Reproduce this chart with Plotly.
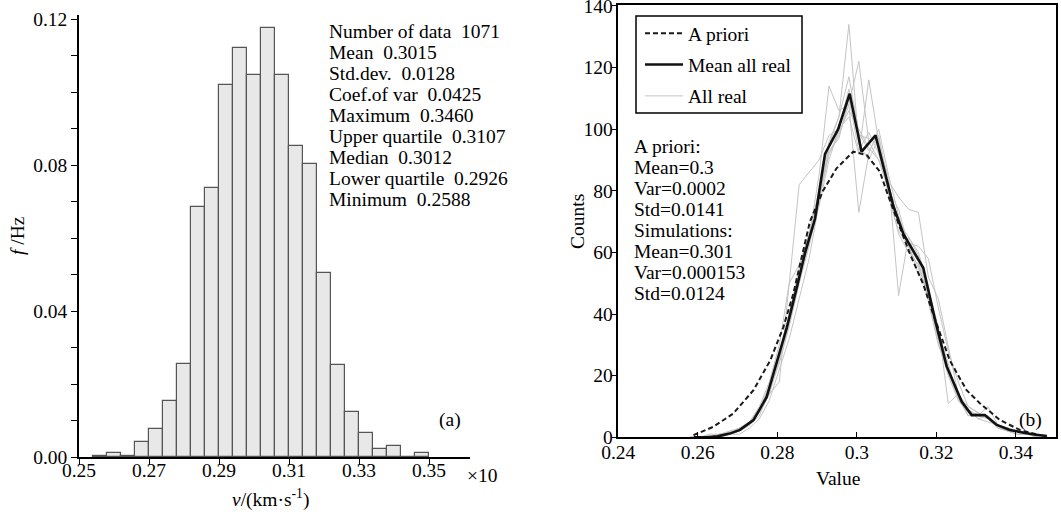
import plotly.graph_objects as go

W, H = 1061, 512
FONT = "Liberation Serif"
FS = 19.5

# ---- panel (a): relative frequency of velocity, bins of width 0.004 ----
bin_centers = [0.256, 0.260, 0.264, 0.268, 0.272, 0.276, 0.280, 0.284, 0.288, 0.292,
               0.296, 0.300, 0.304, 0.308, 0.312, 0.316, 0.320, 0.324, 0.328, 0.332,
               0.336, 0.340, 0.344, 0.348]
freq = [0.0004, 0.0012, 0.0004, 0.0040, 0.0077, 0.0153, 0.0254, 0.0684, 0.0738, 0.1018,
        0.1121, 0.1047, 0.1176, 0.1047, 0.0852, 0.0804, 0.0505, 0.0253, 0.0123, 0.0067,
        0.0021, 0.0029, 0.0, 0.0012]
bin_width = 0.004

stats_lines = ["Number of data \u00a01071", "Mean \u00a00.3015", "Std.dev. \u00a00.0128",
               "Coef.of var \u00a00.0425", "Maximum \u00a00.3460", "Upper quartile \u00a00.3107",
               "Median \u00a00.3012", "Lower quartile \u00a00.2926", "Minimum \u00a00.2588"]

x_ticks_a = [0.25, 0.27, 0.29, 0.31, 0.33, 0.35]
y_ticks_a = [0.0, 0.04, 0.08, 0.12]

# ---- panel (b): counts per value ----
prior_v = [0.2589, 0.2639, 0.2689, 0.2740, 0.2782, 0.2815, 0.2840, 0.2865, 0.2882, 0.2915,
           0.2949, 0.2991, 0.3025, 0.3058, 0.3075, 0.3109, 0.3134, 0.3167, 0.3192, 0.3234,
           0.3276, 0.3310, 0.3360, 0.3410, 0.3460]
prior_c = [0.7, 3.4, 7.7, 15.3, 24.9, 35.7, 46.5, 60.4, 70.0, 80.0,
           87.3, 92.7, 91.6, 86.2, 79.8, 67.9, 59.4, 49.7, 40.0, 24.9,
           15.3, 11.0, 5.6, 2.4, 0.7]

mean_v = [0.2590, 0.2620, 0.2650, 0.2680, 0.2706, 0.2740, 0.2773, 0.2798, 0.2824, 0.2849,
          0.2870, 0.2895, 0.2920, 0.2953, 0.2982, 0.3012, 0.3047, 0.3092, 0.3117, 0.3167,
          0.3197, 0.3226, 0.3264, 0.3289, 0.3322, 0.3352, 0.3385, 0.3420, 0.3450, 0.3478]
mean_c = [0.0, 0.0, 0.3, 1.2, 2.4, 5.6, 13.0, 24.0, 35.7, 48.6,
          60.0, 71.0, 92.0, 100.0, 111.5, 92.7, 98.0, 75.0, 66.0, 55.0,
          38.0, 23.0, 11.5, 7.2, 7.2, 4.0, 2.4, 1.5, 0.8, 0.4]

real_v = [0.2580, 0.2605, 0.2630, 0.2655, 0.2680, 0.2705, 0.2730, 0.2755, 0.2780, 0.2805,
          0.2830, 0.2855, 0.2880, 0.2905, 0.2930, 0.2955, 0.2980, 0.3005, 0.3030, 0.3055,
          0.3080, 0.3105, 0.3130, 0.3155, 0.3180, 0.3205, 0.3230, 0.3255, 0.3280, 0.3305,
          0.3330, 0.3355, 0.3380, 0.3405, 0.3430, 0.3455, 0.3480]
real_1 = [0, 0, 0, 1, 1, 3, 5, 9, 17, 27, 40, 55, 66, 80, 96, 104, 134, 95, 90, 97, 79, 66, 60,
          56, 45, 31, 20, 12, 8, 7, 6, 3, 2, 1, 1, 1, 0]
real_2 = [0, 0, 0, 0, 2, 2, 4, 7, 15, 24, 36, 50, 62, 77, 92, 98, 108, 122, 96, 90, 83, 78, 74,
          73, 52, 45, 30, 14, 9, 6, 5, 4, 3, 2, 1, 0, 0]
real_3 = [0, 0, 1, 1, 1, 3, 5, 10, 18, 30, 50, 82, 86, 90, 98, 100, 104, 92, 116, 96, 78, 67, 62,
          57, 44, 30, 21, 13, 7, 8, 6, 4, 2, 2, 1, 1, 0]
real_4 = [0, 0, 0, 1, 2, 3, 4, 8, 14, 25, 37, 50, 65, 85, 114, 106, 108, 73, 92, 100, 85, 72, 62,
          55, 47, 34, 24, 12, 9, 6, 7, 3, 3, 2, 1, 0, 0]
real_5 = [0, 0, 0, 0, 1, 2, 4, 9, 16, 26, 39, 53, 63, 75, 90, 100, 113, 98, 97, 95, 84, 46, 65,
          60, 49, 33, 22, 14, 9, 7, 10, 4, 2, 1, 1, 1, 0]
real_6 = [0, 0, 0, 1, 1, 2, 5, 8, 14, 18, 50, 56, 66, 79, 92, 99, 106, 100, 94, 90, 80, 74, 62,
          53, 48, 36, 11, 14, 10, 8, 6, 4, 3, 2, 1, 1, 0]
real_7 = [0, 0, 0, 0, 1, 1, 3, 6, 12, 22, 32, 45, 58, 76, 95, 104, 117, 99, 93, 98, 82, 70, 65,
          59, 45, 32, 23, 13, 7, 7, 7, 4, 2, 2, 1, 0, 0]
real_8 = [0, 0, 0, 1, 1, 3, 5, 9, 16, 26, 37, 52, 63, 80, 93, 97, 110, 93, 99, 92, 80, 71, 63,
          62, 58, 42, 28, 18, 10, 8, 6, 3, 2, 1, 1, 1, 0]
realisations = [real_1, real_2, real_3, real_4, real_5, real_6, real_7, real_8]

info_lines = ["A priori:", "Mean=0.3", "Var=0.0002", "Std=0.0141", "Simulations:",
              "Mean=0.301", "Var=0.000153", "Std=0.0124"]

x_ticks_b = [0.24, 0.26, 0.28, 0.30, 0.32, 0.34]
x_tick_text_b = ["0.24", "0.26", "0.28", "0.3", "0.32", "0.34"]
y_ticks_b = [0, 20, 40, 60, 80, 100, 120, 140]


def px_x(x):
    return x / W


def px_y(y):
    return 1 - y / H


fig = go.Figure()

fig.add_trace(go.Bar(
    x=bin_centers, y=freq, width=bin_width,
    marker=dict(color="#e8e8e8", line=dict(color="#555555", width=1.2)),
    xaxis="x", yaxis="y", showlegend=False,
))

for i, series in enumerate(realisations):
    fig.add_trace(go.Scatter(
        x=real_v, y=series, mode="lines",
        line=dict(color="#c4c4c4", width=1),
        name="All real", legendgroup="real", showlegend=(i == 0), legendrank=3,
        xaxis="x2", yaxis="y2",
    ))

fig.add_trace(go.Scatter(
    x=prior_v, y=prior_c, mode="lines",
    line=dict(color="#1a1a1a", width=2, dash="5px,3px"),
    name="A priori", legendgroup="prior", legendrank=1, xaxis="x2", yaxis="y2",
))
fig.add_trace(go.Scatter(
    x=mean_v, y=mean_c, mode="lines", line=dict(color="#111111", width=2.6),
    name="Mean all real", legendgroup="mean", legendrank=2, xaxis="x2", yaxis="y2",
))

tick_font = dict(family=FONT, size=FS, color="black")
axis_common = dict(showgrid=False, zeroline=False, showline=True, linecolor="black",
                   linewidth=1.5, tickcolor="black", tickwidth=1.3, ticklen=6,
                   tickfont=tick_font, automargin=False)

annotations = []
for k, line in enumerate(stats_lines):
    annotations.append(dict(text=line, x=px_x(327), y=px_y(31.5 + 21.0 * k),
                            xanchor="left", yanchor="middle"))
for k, line in enumerate(info_lines):
    annotations.append(dict(text=line, x=px_x(632), y=px_y(146 + 21.1 * k),
                            xanchor="left", yanchor="middle"))
annotations += [
    dict(text="(a)", x=px_x(450), y=px_y(420), xanchor="center", yanchor="middle"),
    dict(text="(b)", x=px_x(1030), y=px_y(420), xanchor="center", yanchor="middle"),
    dict(text="\u00d710", x=px_x(465), y=px_y(475), xanchor="left", yanchor="middle"),
    dict(text="<i>v</i>/(km\u00b7s<sup>-1</sup>)", x=px_x(270), y=px_y(498),
         xanchor="center", yanchor="middle"),
    dict(text="<i>f</i> /Hz", x=px_x(17), y=px_y(236), textangle=-90,
         xanchor="center", yanchor="middle"),
    dict(text="Value", x=px_x(838), y=px_y(478), xanchor="center", yanchor="middle"),
    dict(text="Counts", x=px_x(577), y=px_y(222), textangle=-90,
         xanchor="center", yanchor="middle"),
]
for a in annotations:
    a.update(xref="paper", yref="paper", showarrow=False,
             font=dict(family=FONT, size=FS, color="black"))

# frame around the legend of panel (b)
legend_frame = dict(type="rect", xref="paper", yref="paper",
                    x0=px_x(636), x1=px_x(802), y0=px_y(113), y1=px_y(16),
                    line=dict(color="black", width=1.5), fillcolor="rgba(0,0,0,0)")

fig.update_layout(
    width=W, height=H,
    margin=dict(l=0, r=0, t=0, b=0, pad=0, autoexpand=False),
    paper_bgcolor="white", plot_bgcolor="white",
    font=dict(family=FONT, size=FS, color="black"),
    bargap=0,
    xaxis=dict(axis_common, domain=[px_x(79), px_x(470)], range=[0.25, 0.3617],
               tickvals=x_ticks_a, tickformat=".2f", ticks="outside", anchor="y",
               ticklabelstandoff=-11),
    yaxis=dict(axis_common, domain=[px_y(457), px_y(15)], range=[0, 0.1211],
               tickvals=y_ticks_a, tickformat=".2f", ticks="outside", anchor="x",
               minor=dict(dtick=0.01, tick0=0, ticks="outside", ticklen=6,
                          tickcolor="black", tickwidth=1.3)),
    xaxis2=dict(axis_common, domain=[px_x(618.3), px_x(1056)], range=[0.24, 0.3501],
                tickvals=x_ticks_b, ticktext=x_tick_text_b, ticks="inside",
                mirror=True, anchor="y2", ticklabelstandoff=-3),
    yaxis2=dict(axis_common, domain=[px_y(437.3), px_y(5)], range=[0, 140.3],
                tickvals=y_ticks_b, ticks="outside", ticklen=5, mirror=True, anchor="x2",
                ticklabelstandoff=-5, ticklabeloverflow="allow"),
    legend=dict(x=px_x(640), y=px_y(14), xanchor="left", yanchor="top",
                bgcolor="rgba(0,0,0,0)", borderwidth=0, itemwidth=38,
                font=dict(family=FONT, size=FS, color="black"),
                tracegroupgap=3, traceorder="grouped"),
    shapes=[legend_frame],
    annotations=annotations,
)

fig.write_html("out.html")
